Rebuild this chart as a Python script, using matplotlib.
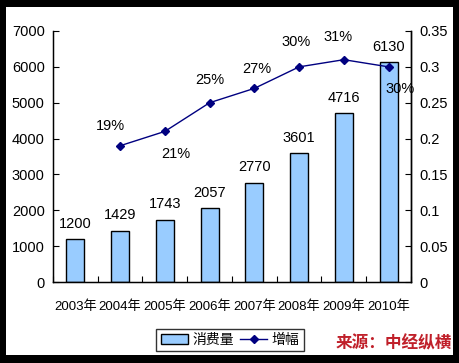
import matplotlib.pyplot as plt
import numpy as np
from matplotlib.patches import Rectangle
from matplotlib.lines import Line2D

plt.rcParams["font.family"] = ["Liberation Sans", "Noto Sans CJK SC"]

years = ["2003年", "2004年", "2005年", "2006年", "2007年", "2008年", "2009年", "2010年"]
consumption = [1200, 1429, 1743, 2057, 2770, 3601, 4716, 6130]
growth = [None, 0.19, 0.21, 0.25, 0.27, 0.30, 0.31, 0.30]
growth_labels = ["", "19%", "21%", "25%", "27%", "30%", "31%", "30%"]
# label offsets in points (dx, dy)
growth_offsets = [(0, 0), (-7, 14), (8, -16), (0, 16), (2, 14), (-2, 18), (-4, 16), (8, -16)]

fig = plt.figure(figsize=(4.6, 3.63), dpi=100, facecolor="black")
fig.patches.append(Rectangle((6 / 460, 8 / 363), 447 / 460, 348 / 363,
                             transform=fig.transFigure, facecolor="white",
                             edgecolor="none", zorder=-10))

ax = fig.add_axes([53 / 460, 81 / 363, 358 / 460, 251 / 363])
ax.set_facecolor("none")
x = np.arange(len(years))
bars = ax.bar(x, consumption, width=0.4, color="#99CCFF", edgecolor="black", linewidth=1)
for xi, v in zip(x, consumption):
    ax.annotate(str(v), (xi, v), xytext=(0, 6), textcoords="offset points",
                ha="center", va="bottom", fontsize=10.5)

ax.set_xlim(-0.5, len(years) - 0.5)
ax.set_ylim(0, 7000)
ax.set_yticks(range(0, 7001, 1000))
ax.set_xticks(np.arange(-0.5, len(years), 1))
ax.set_xticklabels([])
ax.set_xticks(x, minor=True)
ax.set_xticklabels(years, minor=True, fontsize=9.5)
ax.tick_params(axis="x", which="minor", length=0, pad=13)
ax.tick_params(axis="x", which="major", direction="in", length=4)
ax.tick_params(axis="y", direction="in", length=4, labelsize=10.5, pad=6)
ax.spines["top"].set_visible(False)
for s in ["left", "bottom", "right"]:
    ax.spines[s].set_linewidth(1)

ax2 = ax.twinx()
ax2.set_ylim(0, 0.35)
ax2.set_yticks(np.arange(0, 0.351, 0.05))
ax2.set_yticklabels(["0", "0.05", "0.1", "0.15", "0.2", "0.25", "0.3", "0.35"])
ax2.tick_params(axis="y", direction="in", length=4, labelsize=10.5, pad=6)
ax2.spines["top"].set_visible(False)
ax2.spines["right"].set_linewidth(1)

gx = [xi for xi, g in zip(x, growth) if g is not None]
gy = [g for g in growth if g is not None]
ax2.plot(gx, gy, color="#000080", linewidth=1, marker="D", markersize=4)
for xi, g, lab, off in zip(x, growth, growth_labels, growth_offsets):
    if g is None:
        continue
    ax2.annotate(lab, (xi, g), xytext=off, textcoords="offset points",
                 ha="center", va="center", fontsize=10.5)

handles = [Rectangle((0, 0), 1, 1, facecolor="#99CCFF", edgecolor="black"),
           Line2D([], [], color="#000080", marker="D", markersize=4, linewidth=1)]
fig.legend(handles, ["消费量", "增幅"], loc="center", bbox_to_anchor=(230 / 460, 23 / 363),
           ncol=2, frameon=True, fancybox=False, edgecolor="black", fontsize=10,
           handlelength=2.0, handletextpad=0.3, columnspacing=0.4, borderpad=0.3)

fig.text(452 / 460, 20 / 363, "来源：中经纵横", color="#C0202A", fontsize=12,
         fontweight="bold", style="italic", ha="right", va="center",
         family=["Noto Sans CJK SC"])

fig.savefig("out.png", dpi=100, facecolor="black")
